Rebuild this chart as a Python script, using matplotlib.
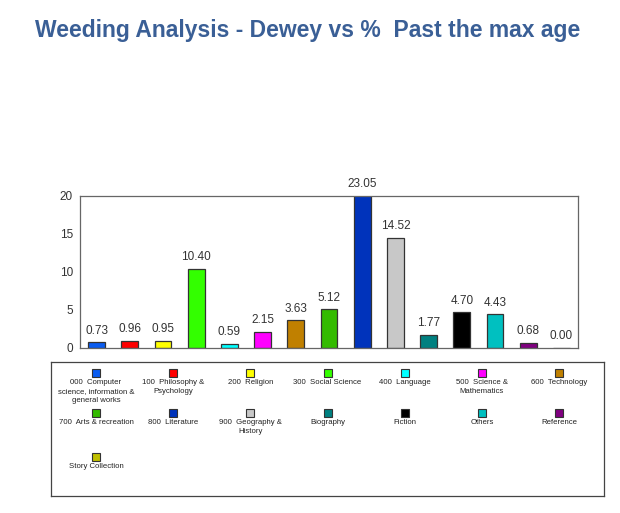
import matplotlib
matplotlib.use("Agg")
import matplotlib.pyplot as plt
from matplotlib.patches import Rectangle

categories = ["000  Computer\nscience, information &\ngeneral works",
              "100  Philosophy &\nPsychology", "200  Religion", "300  Social Science",
              "400  Language", "500  Science &\nMathematics", "600  Technology",
              "700  Arts & recreation", "800  Literature", "900  Geography &\nHistory",
              "Biography", "Fiction", "Others", "Reference", "Story Collection"]
values = [0.73, 0.96, 0.95, 10.40, 0.59, 2.15, 3.63, 5.12, 23.05, 14.52,
          1.77, 4.70, 4.43, 0.68, 0.00]
colors = ["#0a5cf0", "#ff0000", "#ffff00", "#33ff00", "#00ffff", "#ff00ff", "#c08000",
          "#33bb00", "#0033bb", "#c8c8c8", "#008080", "#000000", "#00c0c0", "#800080",
          "#c0c000"]
yticks = [0, 5, 10, 15, 20]

W, H = 620, 513
fig = plt.figure(figsize=(W / 100, H / 100), dpi=100)
plt.rcParams['font.family'] = ['Liberation Sans', 'DejaVu Sans']

fig.text(308 / W, 1 - 30 / H, "Weeding Analysis - Dewey vs %  Past the max age",
         ha="center", va="center", fontsize=16.5, fontweight="bold", color="#3a5f96")

ax = fig.add_axes([80 / W, 1 - 348 / H, (578 - 80) / W, (348 - 196) / H])
x = list(range(len(values)))
ax.bar(x, values, width=0.51, color=colors, edgecolor="#333333", linewidth=0.9, zorder=2)
ax.set_xlim(-0.5, len(values) - 0.5)
ax.set_ylim(0, 20)
ax.set_yticks(yticks)
ax.set_yticklabels([str(t) for t in yticks], fontsize=8.5, color="#333333")
ax.tick_params(axis="y", length=0, pad=5)
ax.set_xticks([])
for s in ax.spines.values():
    s.set_color("#666666")
    s.set_linewidth(0.9)
for xi, v in zip(x, values):
    ax.annotate(f"{v:.2f}", (xi, min(v, 20)), xytext=(0, 4), textcoords="offset points",
                ha="center", va="bottom", fontsize=8.5, color="#333333", annotation_clip=False)

# legend box
lg = fig.add_axes([51 / W, 1 - 496 / H, (604 - 51) / W, (496 - 362) / H])
lg.set_xlim(51, 604)
lg.set_ylim(496, 362)
lg.set_xticks([])
lg.set_yticks([])
for s in lg.spines.values():
    s.set_color("#444444")
    s.set_linewidth(0.9)
ncol = 7
col_x = [96 + 77.2 * i for i in range(ncol)]
row_y = [373, 413, 457]
for i, (lab, c) in enumerate(zip(categories, colors)):
    r, k = divmod(i, ncol)
    cx, cy = col_x[k], row_y[r]
    lg.add_patch(Rectangle((cx - 4, cy - 4), 8, 8, facecolor=c, edgecolor="#333333", linewidth=0.8))
    lg.text(cx, cy + 6, lab, ha="center", va="top", fontsize=5.6, color="#222222",
            linespacing=1.45)

fig.savefig("out.png", dpi=100)
